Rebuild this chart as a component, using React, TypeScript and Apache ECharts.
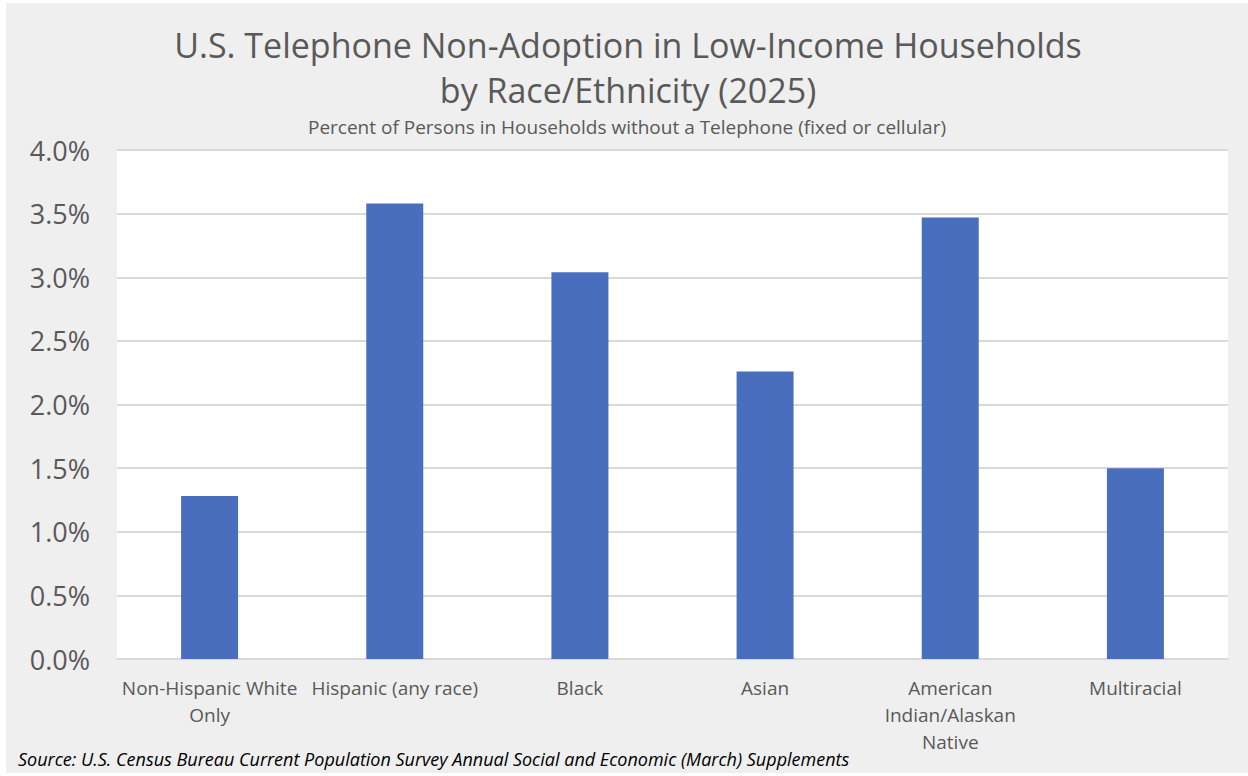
import React, { useEffect, useRef } from "react";
import * as echarts from "echarts";

const categories = [
  "Non-Hispanic White\nOnly",
  "Hispanic (any race)",
  "Black",
  "Asian",
  "American\nIndian/Alaskan\nNative",
  "Multiracial",
];
const values = [1.28, 3.58, 3.04, 2.26, 3.47, 1.5];
const yTicks = { min: 0, max: 4, interval: 0.5 };

const titleLine1 = "U.S. Telephone Non-Adoption in Low-Income Households";
const titleLine2 = "by Race/Ethnicity (2025)";
const subtitle = "Percent of Persons in Households without a Telephone (fixed or cellular)";
const source =
  "Source: U.S. Census Bureau Current Population Survey Annual Social and Economic (March) Supplements";

const FONT = "'Open Sans', 'Noto Sans', sans-serif";
const TEXT = "#595959";

export default function App() {
  const ref = useRef<HTMLDivElement>(null);
  useEffect(() => {
    if (!ref.current) return;
    const chart = echarts.init(ref.current, null, { renderer: "svg" });
    chart.setOption({
      animation: false,
      backgroundColor: "#ffffff",
      textStyle: { fontFamily: FONT },
      graphic: [
        {
          type: "rect",
          z: -10,
          silent: true,
          shape: { x: 6, y: 3, width: 1242, height: 770 },
          style: { fill: "#efefef" },
        },
        {
          type: "rect",
          z: -9,
          silent: true,
          shape: { x: 117, y: 150, width: 1111, height: 509 },
          style: { fill: "#ffffff" },
        },
        {
          type: "text",
          x: 628,
          y: 45,
          style: {
            text: titleLine1,
            fill: TEXT,
            font: `34px ${FONT}`,
            align: "center",
            verticalAlign: "middle",
          },
        },
        {
          type: "text",
          x: 628,
          y: 90,
          style: {
            text: titleLine2,
            fill: TEXT,
            font: `34px ${FONT}`,
            align: "center",
            verticalAlign: "middle",
          },
        },
        {
          type: "text",
          x: 627,
          y: 127,
          style: {
            text: subtitle,
            fill: TEXT,
            font: `19px ${FONT}`,
            align: "center",
            verticalAlign: "middle",
          },
        },
        {
          type: "text",
          x: 18,
          y: 759,
          style: {
            text: source,
            fill: "#000000",
            font: `italic 18px ${FONT}`,
            align: "left",
            verticalAlign: "middle",
          },
        },
      ],
      grid: { left: 117, right: 20, top: 150, bottom: 117, containLabel: false },
      xAxis: {
        type: "category",
        data: categories,
        axisLine: { show: true, lineStyle: { color: "#d9d9d9", width: 2 } },
        axisTick: { show: false },
        axisLabel: {
          color: TEXT,
          fontSize: 19,
          fontFamily: FONT,
          lineHeight: 27,
          margin: 15,
          interval: 0,
        },
      },
      yAxis: {
        type: "value",
        min: yTicks.min,
        max: yTicks.max,
        interval: yTicks.interval,
        axisLine: { show: false },
        axisTick: { show: false },
        splitLine: { lineStyle: { color: "#d9d9d9", width: 2 } },
        axisLabel: {
          color: TEXT,
          fontSize: 27,
          fontFamily: FONT,
          margin: 27,
          formatter: (v: number) => v.toFixed(1) + "%",
        },
      },
      series: [
        {
          type: "bar",
          data: values,
          barWidth: 57,
          itemStyle: { color: "#4a6ebe" },
        },
      ],
    });
    return () => chart.dispose();
  }, []);
  return (
    <div
      ref={ref}
      style={{ position: "fixed", left: 0, top: 0, width: 1248, height: 776 }}
    />
  );
}
